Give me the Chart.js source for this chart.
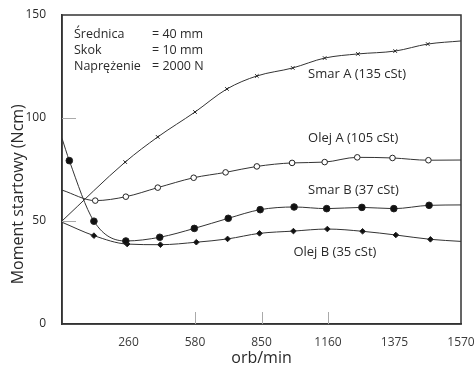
<!DOCTYPE html>
<html><head><meta charset="utf-8">
<script src="https://cdn.jsdelivr.net/npm/chart.js@4/dist/chart.umd.min.js"></script>
<style>html,body{margin:0;padding:0;background:#fff}#wrap{width:475px;height:370px}</style>
</head><body><div id="wrap"><canvas id="c"></canvas></div>
<script>
// x positions are tick-slot indices (axis ticks are evenly spaced, labelled below)
const xTickLabels = ['', '260', '580', '850', '1160', '1375', '1570'];
const yTicks = [0, 50, 100, 150];
const xTitle = 'orb/min';
const yTitle = 'Moment startowy (Ncm)';

const smarA_x = [0, 0.95, 1.44, 2.0, 2.48, 2.93, 3.47, 3.95, 4.45, 5.01, 5.5, 6.0];
const smarA_y = [50, 78.6, 90.8, 102.9, 114.1, 120.4, 124.3, 129.1, 131.1, 132.5, 135.9, 137.4];

const olejA_x = [0, 0.5, 0.96, 1.44, 1.98, 2.46, 2.93, 3.46, 3.95, 4.44, 4.97, 5.51, 6.0];
const olejA_y = [65, 59.9, 61.8, 66.2, 71.0, 73.6, 76.5, 78.2, 78.6, 80.9, 80.6, 79.5, 79.6];

const smarB_x = [0, 0.11, 0.48, 0.96, 1.47, 1.99, 2.5, 2.98, 3.49, 3.98, 4.51, 4.99, 5.52, 6.0];
const smarB_y = [90.1, 79.3, 49.9, 40.3, 42.1, 46.4, 51.3, 55.5, 56.8, 56.0, 56.6, 56.0, 57.6, 57.8];

const olejB_x = [0, 0.48, 0.98, 1.48, 2.02, 2.49, 2.97, 3.48, 3.99, 4.52, 5.02, 5.54, 6.0];
const olejB_y = [49.4, 42.9, 38.8, 38.5, 39.7, 41.3, 44.0, 45.1, 46.1, 45.0, 43.2, 41.1, 40.1];

const seriesNames = ['Smar A (135 cSt)', 'Olej A (105 cSt)', 'Smar B (37 cSt)', 'Olej B (35 cSt)'];
// label anchor in data coords (x slot, y value)
const labelX = [3.7, 3.7, 3.7, 3.48];
const labelY = [121, 90, 64.8, 34.8];

const infoLines = [['Średnica', '= 40 mm'], ['Skok', '= 10 mm'], ['Naprężenie', '= 2000 N']];
const infoY = [140.7, 132.9, 125.2];

const INK = '#2a2a2a';
const FONT = '"Open Sans", sans-serif';

function pts(xs, ys) { return xs.map((x, i) => ({x, y: ys[i]})); }
function endless(r) { return ctx => (ctx.dataIndex === 0 || ctx.dataIndex === ctx.dataset.data.length - 1) ? 0 : r; }

function ds(label, xs, ys, style, r, fill) {
  return {
    label, data: pts(xs, ys),
    borderColor: '#333', borderWidth: 1,
    pointStyle: style, pointRadius: endless(r), pointHoverRadius: endless(r),
    pointBorderColor: '#222', pointBackgroundColor: fill, pointBorderWidth: 1,
    cubicInterpolationMode: 'monotone', tension: 0.4, fill: false
  };
}

const decor = {
  id: 'decor',
  afterDraw(chart) {
    const {ctx, chartArea: a, scales: {x, y}} = chart;
    ctx.save();
    ctx.strokeStyle = '#333'; ctx.lineWidth = 1.5;
    ctx.strokeRect(a.left, a.top, a.right - a.left, a.bottom - a.top);
    // small inner ticks
    ctx.lineWidth = 1; ctx.strokeStyle = '#aaa';
    [50, 100].forEach(v => { const py = Math.round(y.getPixelForValue(v)) + 0.5; ctx.beginPath(); ctx.moveTo(a.left, py); ctx.lineTo(a.left + 14, py); ctx.stroke(); });
    [2, 3, 4].forEach(v => { const px = Math.round(x.getPixelForValue(v)) + 0.5; ctx.beginPath(); ctx.moveTo(px, a.bottom); ctx.lineTo(px, a.bottom - 12); ctx.stroke(); });
    ctx.fillStyle = INK;
    ctx.font = '12.5px ' + FONT;
    ctx.textBaseline = 'middle'; ctx.textAlign = 'left';
    infoLines.forEach((l, i) => {
      const py = y.getPixelForValue(infoY[i]);
      ctx.fillText(l[0], a.left + 12, py);
      ctx.fillText(l[1], a.left + 90, py);
    });
    ctx.font = '13px ' + FONT;
    seriesNames.forEach((n, i) => {
      ctx.fillText(n, x.getPixelForValue(labelX[i]), y.getPixelForValue(labelY[i]));
    });
    // y axis title
    ctx.font = '16px ' + FONT;
    ctx.textAlign = 'center';
    ctx.translate(18, y.getPixelForValue(63));
    ctx.rotate(-Math.PI / 2);
    ctx.fillText(yTitle, 0, 0);
    ctx.restore();
  }
};

new Chart(document.getElementById('c'), {
  type: 'line',
  data: { datasets: [
    ds(seriesNames[0], smarA_x, smarA_y, 'crossRot', 2.5, '#222'),
    ds(seriesNames[1], olejA_x, olejA_y, 'circle', 2.8, '#fff'),
    ds(seriesNames[2], smarB_x, smarB_y, 'circle', 3.3, '#111'),
    ds(seriesNames[3], olejB_x, olejB_y, 'rectRot', 2.8, '#111')
  ]},
  options: {
    responsive: true, maintainAspectRatio: false, animation: false,
    layout: { padding: { top: 15, right: 14, left: 0, bottom: 0 } },
    plugins: { legend: { display: false }, tooltip: { enabled: false } },
    scales: {
      x: {
        type: 'linear', min: 0, max: 6,
        grid: { display: false },
        border: { display: true, color: '#333', width: 1.5 },
        ticks: { stepSize: 1, color: '#3a3a3a', font: { family: FONT, size: 12 }, padding: 3, maxRotation: 0,
          callback: v => xTickLabels[v] },
        title: { display: true, text: xTitle, color: INK, font: { family: FONT, size: 16 }, padding: { top: 0, bottom: 2 } },
        afterFit: s => { s.height = 46; s.paddingRight = 0; s.paddingLeft = 0; }
      },
      y: {
        min: 0, max: 150,
        grid: { display: false },
        border: { display: true, color: '#333', width: 1.5 },
        afterBuildTicks: s => { s.ticks = yTicks.map(v => ({value: v})); },
        ticks: { color: INK, font: { family: FONT, size: 12 }, padding: 8 },
        afterFit: s => { s.width = 62; s.paddingTop = 0; s.paddingBottom = 0; }
      }
    }
  },
  plugins: [decor]
});
</script></body></html>
